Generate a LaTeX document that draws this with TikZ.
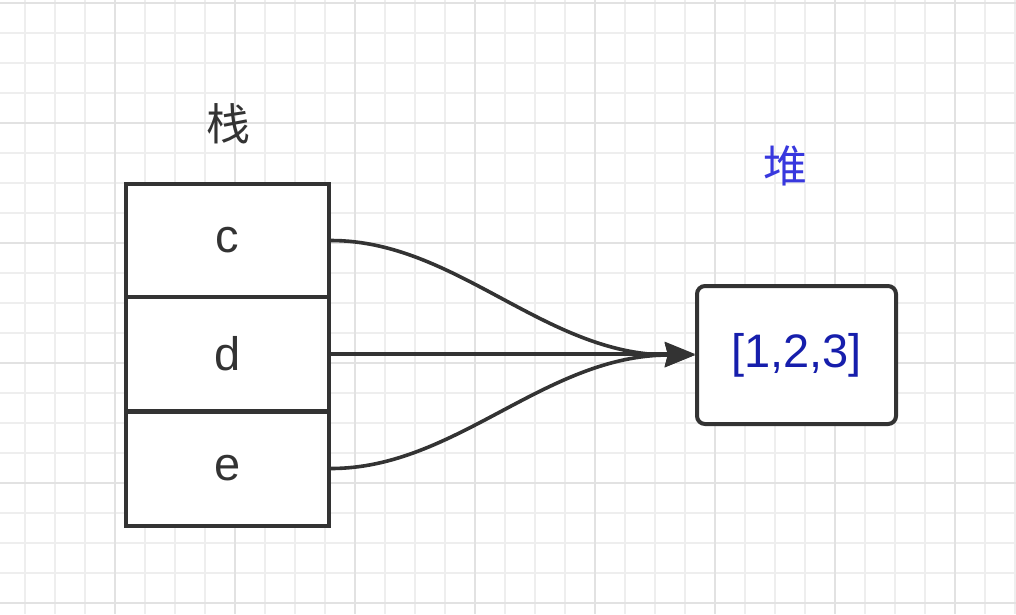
\documentclass[tikz,border=0pt]{standalone}
\usepackage{fontspec}
\setmainfont{Liberation Sans}
\newfontfamily\cjk{Noto Sans CJK SC}
\usetikzlibrary{arrows.meta,calc}
\definecolor{ink}{RGB}{51,51,51}
\definecolor{gridminor}{RGB}{238,238,238}
\definecolor{gridmajor}{RGB}{226,226,226}
\definecolor{heapblue}{RGB}{56,56,222}
\definecolor{valblue}{RGB}{22,30,172}
\tikzset{
  cell/.style={draw=ink, line width=4pt, fill=white, minimum width=203pt, minimum height=114pt, inner sep=0pt, text=ink, font=\fontsize{47}{56}\selectfont},
  heapbox/.style={draw=ink, line width=4pt, fill=white, rounded corners=8pt, minimum width=199pt, minimum height=138pt, inner sep=0pt, text=valblue, font=\fontsize{47}{56}\selectfont},
  title/.style={inner sep=0pt, font=\cjk\fontsize{44}{50}\selectfont},
  link/.style={draw=ink, line width=3.6pt, -{Stealth[length=30pt,width=24pt,inset=3pt]}},
}
\begin{document}
\begin{tikzpicture}[x=1pt,y=-1pt]
\useasboundingbox (0,0) rectangle (1016,614);
\fill[white] (0,0) rectangle (1016,614);
% grid
\foreach \i in {0,...,33} {\draw[gridminor, line width=1.5pt] ({25+30*\i},0) -- ({25+30*\i},614);}
\foreach \j in {0,...,20} {\draw[gridminor, line width=1.5pt] (0,{3+30*\j}) -- (1016,{3+30*\j});}
\foreach \i in {-1,...,8} {\draw[gridmajor, line width=2pt] ({115+120*\i},0) -- ({115+120*\i},614);}
\foreach \j in {0,...,5} {\draw[gridmajor, line width=2pt] (0,{3+120*\j}) -- (1016,{3+120*\j});}
% titles
\node[title, text=ink] (stack) at (228,124) {栈};
\node[title, text=heapblue] (heaplabel) at (785,166) {堆};
% stack cells
\node[cell] (c) at (227.5,240.5) {c};
\node[cell] (d) at (227.5,354) {d};
\node[cell] (e) at (227.5,468.5) {e};
% heap
\node[heapbox] (h) at (796.5,355) {[1,2,3]};
% connectors
\draw[link] (c.east) .. controls ($(c.east)+(125,0)$) and ($(h.west)+(-150,0)$) .. (h.west);
\draw[link] (e.east) .. controls ($(e.east)+(125,0)$) and ($(h.west)+(-150,0)$) .. (h.west);
\draw[link] (d.east) -- (d.east -| h.west);
\end{tikzpicture}
\end{document}
